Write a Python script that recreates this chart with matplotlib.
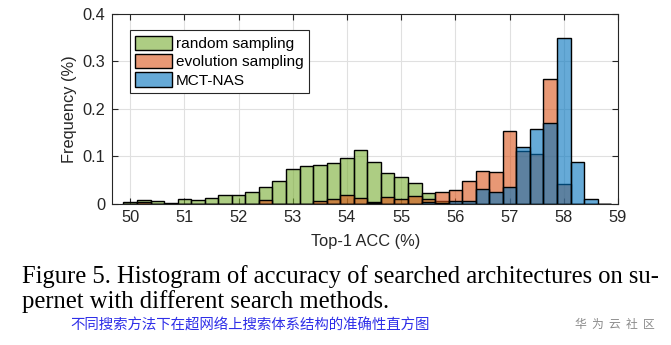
import numpy as np
import matplotlib.pyplot as plt
from matplotlib.patches import Patch

# bin centres of Top-1 ACC (%), bin width 0.25
acc_bins = [50.0, 50.25, 50.5, 50.75, 51.0, 51.25, 51.5, 51.75, 52.0, 52.25,
            52.5, 52.75, 53.0, 53.25, 53.5, 53.75, 54.0, 54.25, 54.5, 54.75,
            55.0, 55.25, 55.5, 55.75, 56.0, 56.25, 56.5, 56.75, 57.0, 57.25,
            57.5, 57.75, 58.0, 58.25, 58.5, 58.75]
bin_width = 0.25

random_freq = [0.003, 0.0065, 0.0045, 0.001, 0.009, 0.007, 0.011, 0.017, 0.017, 0.024,
               0.035, 0.047, 0.072, 0.079, 0.082, 0.086, 0.096, 0.113, 0.087, 0.065,
               0.057, 0.043, 0.0215, 0.005, 0, 0, 0, 0, 0, 0,
               0, 0, 0, 0, 0, 0]
evolution_freq = [0, 0.003, 0, 0, 0, 0, 0, 0, 0, 0,
                  0.0075, 0, 0, 0, 0.005, 0.0085, 0.017, 0.011, 0.003, 0.013,
                  0.0095, 0.015, 0.010, 0.0235, 0.028, 0.048, 0.069, 0.0665, 0.1525, 0.111,
                  0.1045, 0.263, 0.0405, 0, 0, 0]
mct_freq = [0, 0, 0, 0, 0, 0, 0, 0, 0, 0,
            0, 0, 0, 0, 0, 0, 0, 0, 0.002, 0,
            0, 0, 0.004, 0.002, 0.006, 0.005, 0.030, 0.025, 0.034, 0.119,
            0.1575, 0.171, 0.349, 0.0885, 0.0095, 0]

labels = ["random sampling", "evolution sampling", "MCT-NAS"]
colors = [(0.466, 0.674, 0.188), (0.85, 0.325, 0.098), (0.0, 0.447, 0.741)]
alpha = 0.6

plt.rcParams['font.family'] = ['Liberation Sans', 'DejaVu Sans']
fig = plt.figure(figsize=(6.71, 3.45), dpi=100)
ax = fig.add_axes([0.1674, 0.4101, 0.7536, 0.5493])

for freq, c in zip([random_freq, evolution_freq, mct_freq], colors):
    ax.bar(acc_bins, freq, width=bin_width, facecolor=(*c, alpha),
           edgecolor='black', linewidth=1.0, zorder=2)

ax.set_xlim(49.67, 59)
ax.set_ylim(0, 0.4)
ax.set_xticks(range(50, 60))
ax.set_yticks([0, 0.1, 0.2, 0.3, 0.4])
ax.set_yticklabels(['0', '0.1', '0.2', '0.3', '0.4'])
ax.grid(True, color='#e0e0e0', linewidth=0.8, zorder=0)
ax.set_axisbelow(True)
ax.tick_params(direction='in', length=4, width=0.8, top=True, right=True,
               labelsize=11.8, colors='#262626', pad=5)
for s in ax.spines.values():
    s.set_color('#262626')
    s.set_linewidth(0.8)
ax.set_xlabel("Top-1 ACC (%)", fontsize=11.8, color='#262626', labelpad=6)
ax.set_ylabel("Frequency (%)", fontsize=11.8, color='#262626', labelpad=4)

handles = [Patch(facecolor=(*c, alpha), edgecolor='black', linewidth=1.0) for c in colors]
leg = ax.legend(handles, labels, loc='upper left', bbox_to_anchor=(0.035, 0.915),
                fontsize=11.1, fancybox=False, framealpha=1, edgecolor='#262626',
                handlelength=2.4, handleheight=1.05, handletextpad=0.2,
                labelspacing=0.2, borderpad=0.35, borderaxespad=0)
leg.get_frame().set_linewidth(0.8)

# caption below the chart
fig.text(22 / 671, 1 - 277 / 345, "Figure 5. Histogram of accuracy of searched architectures on su-",
         family='Liberation Serif', fontsize=17.7, va='center', ha='left', color='black')
fig.text(22 / 671, 1 - 302 / 345, "pernet with different search methods.",
         family='Liberation Serif', fontsize=17.7, va='center', ha='left', color='black')
fig.text(70 / 671, 1 - 326 / 345, "不同搜索方法下在超网络上搜索体系结构的准确性直方图",
         family=['Noto Sans CJK SC', 'DejaVu Sans'], fontsize=10.4, va='center', ha='left',
         color='#2f2fe8')
fig.text(575 / 671, 1 - 324 / 345, "华  为  云  社  区",
         family=['Noto Sans CJK SC', 'DejaVu Sans'], fontsize=8.5, va='center', ha='left',
         color='#8a8a8a')

fig.savefig("out.png", dpi=100)
